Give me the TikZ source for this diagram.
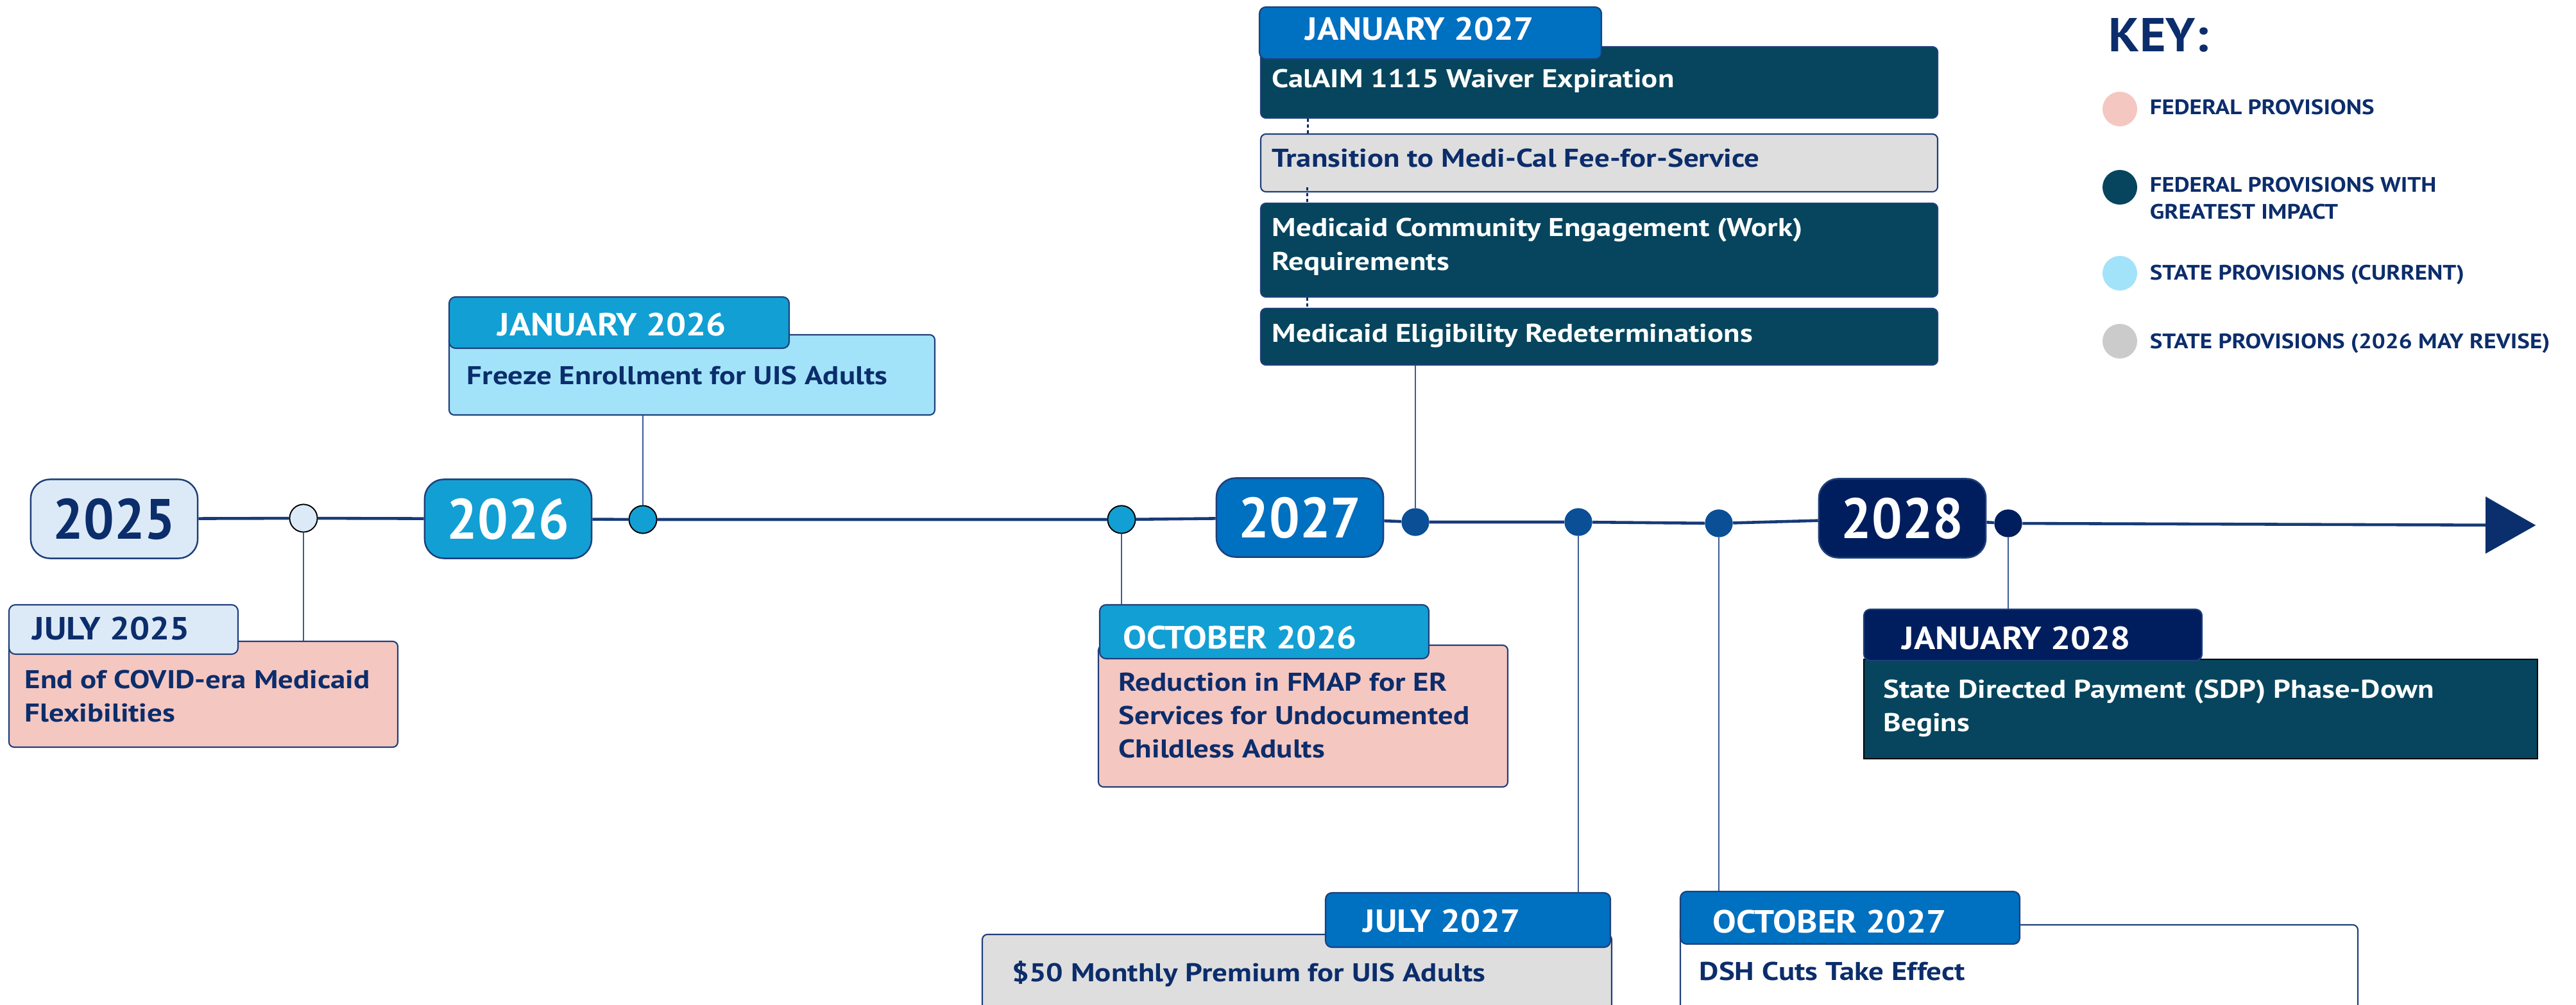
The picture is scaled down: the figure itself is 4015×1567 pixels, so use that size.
\documentclass[tikz,border=0pt]{standalone}
\usepackage{fontspec}
\setmainfont{PT Sans}
\newfontfamily\bodyfam{PT Sans}[FakeStretch=1.17]
\newfontfamily\tabfam{PT Sans}[FakeStretch=1.1]
\newfontfamily\keyfam{PT Sans}[FakeStretch=1.13]
\newfontfamily\headfam{PT Sans}[FakeStretch=1.05]
\newfontfamily\yearfam{PT Sans}[FakeStretch=0.95]
\usetikzlibrary{arrows.meta,fit,calc}

\definecolor{navytext}{HTML}{0C2D6B}
\definecolor{edge}{HTML}{1F3F7A}
\definecolor{axis}{HTML}{173A78}
\definecolor{tipfill}{HTML}{0B2E6C}
\definecolor{connc}{HTML}{3D5C95}
\definecolor{paleblue}{HTML}{DCEAF7}
\definecolor{midcyan}{HTML}{129FD4}
\definecolor{blueyr}{HTML}{0070C0}
\definecolor{navyyr}{HTML}{001E5E}
\definecolor{pinkfed}{HTML}{F5C7C1}
\definecolor{tealfed}{HTML}{06455D}
\definecolor{cyanstate}{HTML}{A2E3F9}
\definecolor{graystate}{HTML}{DEDEDE}
\definecolor{graykey}{HTML}{CBCBCB}
\definecolor{dotblue}{HTML}{0B4F97}

% font sizes (1 unit = 0.01cm)
\newcommand\bodyfont{\bodyfam\fontsize{11.4}{14.8}\selectfont\bfseries}
\newcommand\tabfont{\tabfam\fontsize{14.2}{17}\selectfont\bfseries}
\newcommand\yearfont{\yearfam\fontsize{25.2}{30}\selectfont\bfseries}
\newcommand\keyhead{\headfam\fontsize{21.1}{25}\selectfont\bfseries}
\newcommand\keyfont{\keyfam\fontsize{9.3}{11.7}\selectfont\bfseries}
\newcommand\rows[1]{\begin{tabular}[t]{@{}l@{}}#1\end{tabular}}

\begin{document}
\begin{tikzpicture}[x=0.01cm,y=-0.01cm,
  yearbox/.style={draw=edge,line width=0.7pt,rounded corners=0.3cm,fill=#1,
    minimum width=2.6cm,minimum height=1.23cm,inner sep=0pt,font=\yearfont},
  panel/.style={draw=edge,line width=0.6pt,rounded corners=0.08cm,fill=#1,inner sep=0pt},
  tabbox/.style={draw=edge,line width=0.6pt,rounded corners=0.1cm,fill=#1,inner sep=0pt},
  tabtxt/.style={anchor=base west,inner sep=0pt,font=\tabfont,text=white},
  txt/.style={anchor=base west,inner sep=0pt,font=\bodyfont,text=navytext},
  wtxt/.style={txt,text=white},
  mark/.style={circle,fill=#1,minimum size=0.43cm,inner sep=0pt},
  ringmark/.style={mark=#1,draw=black,line width=0.5pt},
  tl/.style={draw=axis,line width=1.3pt},
  conn/.style={draw=connc,line width=0.55pt},
  dotc/.style={draw=navytext,line width=0.85pt,dash pattern=on 1.3pt off 1.3pt},
  keydot/.style={circle,fill=#1,minimum size=0.54cm,inner sep=0pt},
  keytxt/.style={anchor=base west,inner sep=0pt,font=\keyfont,text=navytext}]

\useasboundingbox (0,0) rectangle (4015,1567);
\clip (0,0) rectangle (4015,1567);

% ---- year boxes on the axis
\node[yearbox=paleblue,text=navytext] (y25) at (178,809) {2025};
\node[yearbox=midcyan,text=white] (y26) at (792,809) {2026};
\node[yearbox=blueyr,text=white] (y27) at (2026,807) {2027};
\node[yearbox=navyyr,text=white] (y28) at (2965,808) {2028};

% ---- event markers
\node[ringmark=paleblue] (c1) at (473,808) {};
\node[ringmark=midcyan] (c2) at (1002,810) {};
\node[ringmark=midcyan] (c3) at (1748,810) {};
\node[mark=dotblue] (c4) at (2206,814) {};
\node[mark=dotblue] (c5) at (2460,814) {};
\node[mark=dotblue] (c6) at (2679,816) {};
\node[mark=navyyr] (c7) at (3130,816) {};
\coordinate (tip) at (3952,819);

% ---- axis
\draw[tl] (y25) -- (c1) -- (y26) -- (c2) -- (c3) -- (y27) -- (c4) -- (c5) -- (c6) -- (y28) -- (c7);
\draw[tl,-{Triangle[length=0.78cm,width=0.88cm]},draw=axis] (c7) -- (tip);
\fill[tipfill] (3874,776) -- (3952,819) -- (3874,863) -- cycle;

% redraw markers on top of the axis
\node[ringmark=paleblue] at (c1) {};
\node[ringmark=midcyan] at (c2) {};
\node[ringmark=midcyan] at (c3) {};
\node[mark=dotblue] at (c4) {};
\node[mark=dotblue] at (c5) {};
\node[mark=dotblue] at (c6) {};
\node[mark=navyyr] at (c7) {};

% ---- July 2025
\node[panel=pinkfed,fit={(14,1000) (620,1165)}] (p1) {};
\node[tabbox=paleblue,fit={(14,943) (371,1020)}] (g1) {};
\node[tabtxt,text=navytext] (g1t) at (50,997) {JULY 2025};
\node[txt] (p1t) at (38,1073) {\rows{End of COVID-era Medicaid\\Flexibilities}};
\draw[conn] (c1) -- (c1 |- p1.north);

% ---- January 2026
\node[panel=cyanstate,fit={(700,522) (1457,647)}] (p2) {};
\node[tabbox=midcyan,fit={(700,463) (1230,543)}] (g2) {};
\node[tabtxt] (g2t) at (775,523) {JANUARY 2026};
\node[txt] (p2t) at (727,600) {Freeze Enrollment for UIS Adults};
\draw[conn] (c2) -- (c2 |- p2.south);

% ---- October 2026
\node[panel=pinkfed,fit={(1712,1006) (2350,1227)}] (p3) {};
\node[tabbox=midcyan,fit={(1714,943) (2227,1027)}] (g3) {};
\node[tabtxt] (g3t) at (1750,1011) {OCTOBER 2026};
\node[txt] (p3t) at (1743,1077) {\rows{Reduction in FMAP for ER\\Services for Undocumented\\Childless Adults}};
\draw[conn] (c3) -- (c3 |- g3.north);

% ---- January 2027 stack
\node[panel=tealfed,fit={(1965,73) (3020,184)}] (sa) {};
\node[panel=graystate,fit={(1965,209) (3020,299)}] (sb) {};
\node[panel=tealfed,fit={(1965,317) (3020,463)}] (sc) {};
\node[panel=tealfed,fit={(1965,481) (3020,569)}] (sd) {};
\node[tabbox=blueyr,fit={(1963,11) (2496,92)}] (g4) {};
\node[tabtxt] (g4t) at (2034,63) {JANUARY 2027};
\node[wtxt] (sat) at (1982,137) {CalAIM 1115 Waiver Expiration};
\node[txt] (sbt) at (1982,261) {Transition to Medi-Cal Fee-for-Service};
\node[wtxt] (sct) at (1982,369) {\rows{Medicaid Community Engagement (Work)\\Requirements}};
\node[wtxt] (sdt) at (1982,534) {Medicaid Eligibility Redeterminations};
\draw[dotc] ($(sa.south west)+(75,0)$) -- ($(sb.north west)+(75,0)$);
\draw[dotc] ($(sb.south west)+(74,-8)$) -- ($(sc.north west)+(74,0)$);
\draw[dotc] ($(sc.south west)+(74,0)$) -- ($(sd.north west)+(74,0)$);
\draw[conn] (c4) -- (c4 |- sd.south);

% ---- July 2027
\node[panel=graystate,fit={(1531,1457) (2512,1640)}] (p5) {};
\node[tabbox=blueyr,fit={(2066,1392) (2510,1477)}] (g5) {};
\node[tabtxt] (g5t) at (2124,1453) {JULY 2027};
\node[txt] (p5t) at (1577,1530) {\$50 Monthly Premium for UIS Adults};
\draw[conn] (c5) -- (c5 |- g5.north);

% ---- October 2027
\node[panel=white,fit={(2619,1442) (3675,1640)}] (p6) {};
\node[tabbox=blueyr,fit={(2619,1390) (3148,1472)}] (g6) {};
\node[tabtxt] (g6t) at (2669,1454) {OCTOBER 2027};
\node[txt] (p6t) at (2648,1528) {DSH Cuts Take Effect};
\draw[conn] (c6) -- (c6 |- g6.north);

% ---- January 2028
\node[draw=black,line width=0.7pt,fill=tealfed,inner sep=0pt,fit={(2905,1028) (3955,1183)}] (p7) {};
\node[tabbox=navyyr,fit={(2905,950) (3432,1030)}] (g7) {};
\node[tabtxt] (g7t) at (2964,1012) {JANUARY 2028};
\node[wtxt] (p7t) at (2935,1088) {\rows{State Directed Payment (SDP) Phase-Down\\Begins}};
\draw[conn] (c7) -- (c7 |- g7.north);

% ---- key
\node[anchor=base west,inner sep=0pt,font=\keyhead,text=navytext] (kh) at (3286,81) {KEY:};
\node[keydot=pinkfed] (k1) at (3304,170) {};
\node[keydot=tealfed] (k2) at (3304,292) {};
\node[keydot=cyanstate] (k3) at (3304,426) {};
\node[keydot=graykey] (k4) at (3304,532) {};
\node[keytxt] (k1t) at (3350,179) {FEDERAL PROVISIONS};
\node[keytxt] (k2t) at (3350,300) {\rows{FEDERAL PROVISIONS WITH\\GREATEST IMPACT}};
\node[keytxt] (k3t) at (3350,436) {STATE PROVISIONS (CURRENT)};
\node[keytxt] (k4t) at (3350,543) {STATE PROVISIONS (2026 MAY REVISE)};
\end{tikzpicture}
\end{document}
